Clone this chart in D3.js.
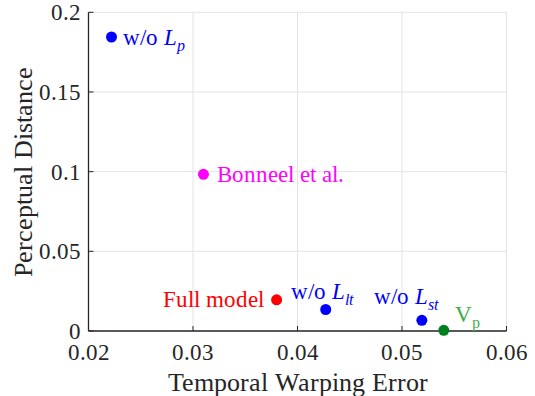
<!DOCTYPE html>
<html>
<head>
<meta charset="utf-8">
<script src="https://cdn.jsdelivr.net/npm/d3@7"></script>
<style>
  @font-face { font-family: "ChartSerif"; src: local("Liberation Serif"), local("LiberationSerif"), local("Liberation Serif Regular"), local("LiberationSerif-Regular"); font-style: normal; }
  @font-face { font-family: "ChartSerif"; src: local("Liberation Serif Italic"), local("LiberationSerif-Italic"); font-style: italic; }
  body { margin: 0; }
  #chart text { font-family: "ChartSerif", "Liberation Serif", "Times New Roman", serif; }
</style>
</head>
<body>
<svg id="chart" width="535" height="396"></svg>
<script>
// Methods compared on temporal warping error vs. perceptual distance
const methods = ["w/o Lp", "Bonneel et al.", "Full model", "w/o Llt", "w/o Lst", "Vp"];
const warpingError = [0.0222, 0.0310, 0.0380, 0.0427, 0.0519, 0.0540];
const perceptualDistance = [0.1845, 0.0983, 0.0196, 0.0135, 0.0067, 0.0004];
const dotColors = ["#0000ff", "#ff00ff", "#ff0000", "#0000ff", "#0000ff", "#007f1f"];
const labelColors = ["#0000ff", "#ff00ff", "#ff0000", "#0000ff", "#0000ff", "#3fae49"];
// label text: main part + optional italic letter and subscript
const labelMain = ["w/o ", "Bonneel et al.", "Full model", "w/o ", "w/o ", "V"];
const labelItalic = ["L", "", "", "L", "L", ""];
const labelSub = ["p", "", "", "lt", "st", "p"];
const subItalic = [true, false, false, true, true, false];
// label placement relative to each dot (pixels) and anchor
const labelDx = [12, 14, -13, -35, -48, 11];
const labelDy = [8, 8, 7, -10, -16, -8];
const labelAnchor = ["start", "start", "end", "start", "start", "start"];

const xTicks = [0.02, 0.03, 0.04, 0.05, 0.06];
const yTicks = [0, 0.05, 0.1, 0.15, 0.2];

const x = d3.scaleLinear().domain([0.02, 0.06]).range([88.5, 506.5]);
const y = d3.scaleLinear().domain([0, 0.2]).range([331, 12.3]);

const axisColor = "#262626";
const gridColor = "#e3e3e3";
const svg = d3.select("#chart");

// grid
const grid = svg.append("g");
grid.selectAll("line.gx").data(xTicks).join("line")
  .attr("x1", d => x(d)).attr("x2", d => x(d))
  .attr("y1", y(0)).attr("y2", y(0.2))
  .attr("stroke", gridColor);
grid.selectAll("line.gy").data(yTicks).join("line")
  .attr("y1", d => y(d)).attr("y2", d => y(d))
  .attr("x1", x(0.02)).attr("x2", x(0.06))
  .attr("stroke", gridColor);

// axis lines and inward ticks
svg.append("line").attr("x1", x(0.02)).attr("x2", x(0.06)).attr("y1", y(0)).attr("y2", y(0))
  .attr("stroke", axisColor).attr("stroke-width", 1.3);
svg.append("line").attr("x1", x(0.02)).attr("x2", x(0.02)).attr("y1", y(0)).attr("y2", y(0.2))
  .attr("stroke", axisColor).attr("stroke-width", 1.3);
svg.append("g").selectAll("line").data(xTicks).join("line")
  .attr("x1", d => x(d)).attr("x2", d => x(d)).attr("y1", y(0)).attr("y2", y(0) - 5)
  .attr("stroke", axisColor);
svg.append("g").selectAll("line").data(yTicks).join("line")
  .attr("y1", d => y(d)).attr("y2", d => y(d)).attr("x1", x(0.02)).attr("x2", x(0.02) + 5)
  .attr("stroke", axisColor);

// tick labels
svg.append("g").selectAll("text").data(xTicks).join("text")
  .attr("font-size", 23)
  .attr("x", d => x(d)).attr("y", y(0) + 29)
  .attr("text-anchor", "middle").attr("fill", axisColor)
  .text(d => d3.format(".2f")(d));
svg.append("g").selectAll("text").data(yTicks).join("text")
  .attr("font-size", 23)
  .attr("x", x(0.02) - 8).attr("y", d => y(d) + 8)
  .attr("text-anchor", "end").attr("fill", axisColor)
  .text(d => d === 0 ? "0" : String(+d.toFixed(2)));

// axis titles
const titles = [
  { t: "Temporal Warping Error", tr: `translate(${(x(0.02) + x(0.06)) / 2},391)` },
  { t: "Perceptual Distance", tr: `translate(32,${(y(0) + y(0.2)) / 2}) rotate(-90)` }
];
svg.append("g").selectAll("text").data(titles).join("text")
  .attr("font-size", 25.5)
  .attr("transform", d => d.tr).attr("text-anchor", "middle").attr("fill", axisColor)
  .text(d => d.t);

// points
const data = methods.map((m, i) => ({ i, m, xv: warpingError[i], yv: perceptualDistance[i] }));
svg.append("g").selectAll("circle").data(data).join("circle")
  .attr("cx", d => x(d.xv)).attr("cy", d => y(d.yv)).attr("r", 5.5)
  .attr("fill", d => dotColors[d.i]);

// point labels
const labels = svg.append("g").selectAll("text").data(data).join("text")
  .attr("font-size", 23)
  .attr("x", d => x(d.xv) + labelDx[d.i])
  .attr("y", d => y(d.yv) + labelDy[d.i])
  .attr("text-anchor", d => labelAnchor[d.i])
  .attr("fill", d => labelColors[d.i]);
labels.each(function (d) {
  const t = d3.select(this);
  t.append("tspan").text(labelMain[d.i]);
  if (labelItalic[d.i]) t.append("tspan").attr("font-style", "italic").text(labelItalic[d.i]);
  if (labelSub[d.i]) {
    t.append("tspan").attr("dy", 6).attr("font-size", 16)
      .attr("font-style", subItalic[d.i] ? "italic" : "normal").text(labelSub[d.i]);
  }
});
</script>
</body>
</html>
